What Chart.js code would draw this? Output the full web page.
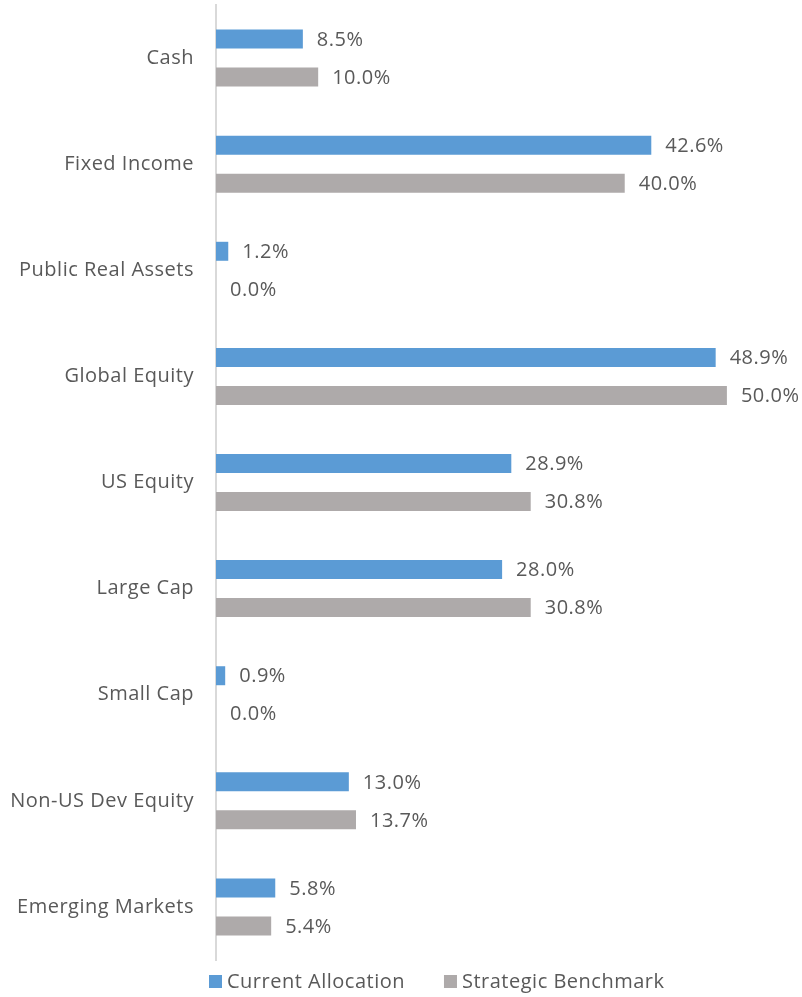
<!DOCTYPE html>
<html>
<head>
<meta charset="utf-8">
<script src="https://cdn.jsdelivr.net/npm/chart.js@4/dist/chart.umd.min.js"></script>
<style>
html,body{margin:0;padding:0;background:#fff;}
#wrap{width:802px;height:997px;position:relative;}
</style>
</head>
<body>
<div id="wrap"><canvas id="c"></canvas></div>
<script>
const categories = ["Cash","Fixed Income","Public Real Assets","Global Equity","US Equity","Large Cap","Small Cap","Non-US Dev Equity","Emerging Markets"];
const currentAllocation = [8.5, 42.6, 1.2, 48.9, 28.9, 28.0, 0.9, 13.0, 5.8];
const strategicBenchmark = [10.0, 40.0, 0.0, 50.0, 30.8, 30.8, 0.0, 13.7, 5.4];
const seriesNames = ["Current Allocation", "Strategic Benchmark"];
const seriesColors = ['#5B9BD5', '#AEAAAA'];

const FONT = "'Open Sans', Lato, sans-serif";
const TEXT = "#595959";
const SPACING = '0.5px';

const labelPlugin = {
  id: 'barLabels',
  beforeDraw(chart) {
    chart.ctx.letterSpacing = SPACING;
  },
  afterDatasetsDraw(chart) {
    const ctx = chart.ctx;
    ctx.save();
    ctx.letterSpacing = SPACING;
    ctx.font = "20px " + FONT;
    ctx.fillStyle = TEXT;
    ctx.textAlign = 'left';
    ctx.textBaseline = 'middle';
    chart.data.datasets.forEach((ds, i) => {
      const meta = chart.getDatasetMeta(i);
      meta.data.forEach((el, j) => {
        ctx.fillText(ds.data[j].toFixed(1) + '%', el.x + 14, el.y + 1);
      });
    });
    ctx.restore();
  },
  afterDraw(chart) {
    const ctx = chart.ctx;
    ctx.save();
    ctx.letterSpacing = SPACING;
    ctx.font = "20px " + FONT;
    ctx.textBaseline = 'middle';
    ctx.textAlign = 'left';
    let x = 209;
    const yc = 982;
    chart.data.datasets.forEach((ds, i) => {
      ctx.fillStyle = ds.backgroundColor;
      ctx.fillRect(x, yc - 7, 13, 13);
      x += 13 + 5;
      ctx.fillStyle = TEXT;
      ctx.fillText(ds.label, x, yc);
      x += ctx.measureText(ds.label).width + 39;
    });
    ctx.restore();
  }
};

new Chart(document.getElementById('c'), {
  type: 'bar',
  data: {
    labels: categories,
    datasets: [
      { label: seriesNames[0], data: currentAllocation, backgroundColor: seriesColors[0], categoryPercentage: 0.716, barPercentage: 0.5 },
      { label: seriesNames[1], data: strategicBenchmark, backgroundColor: seriesColors[1], categoryPercentage: 0.716, barPercentage: 0.5 }
    ]
  },
  options: {
    indexAxis: 'y',
    responsive: true,
    maintainAspectRatio: false,
    animation: false,
    layout: { padding: { left: 0, right: 24, top: 5, bottom: 37 } },
    plugins: {
      legend: { display: false },
      tooltip: { enabled: false }
    },
    scales: {
      x: { display: false, min: 0, max: 55 },
      y: {
        grid: { display: false, drawTicks: false },
        border: { display: true, color: '#D9D9D9', width: 2 },
        ticks: { font: { family: FONT, size: 20 }, color: TEXT, padding: 22 },
        afterFit(scale) { scale.width = 216; scale.paddingTop = 0; scale.paddingBottom = 0; }
      }
    }
  },
  plugins: [labelPlugin]
});
</script>
</body>
</html>
